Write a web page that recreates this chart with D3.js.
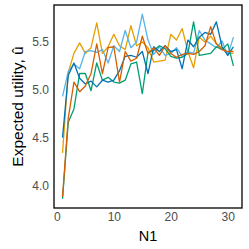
<!DOCTYPE html>
<html><head><meta charset="utf-8">
<script src="https://cdn.jsdelivr.net/npm/d3@7"></script>
<style>body{margin:0;background:#fff}svg{display:block}</style>
</head><body>
<script>
const N1 = d3.range(1, 32);
const orange = [4.34,5.18,5.38,5.49,5.38,5.44,5.70,5.38,5.45,5.58,5.46,5.42,5.67,5.46,5.50,5.44,5.29,5.30,5.31,5.58,5.52,5.64,5.40,5.23,5.55,5.50,5.56,5.48,5.44,5.38,5.38];
const skyblue = [4.93,5.19,5.27,5.22,5.40,5.41,5.39,5.42,5.28,5.46,5.40,5.62,5.44,5.50,5.79,5.52,5.37,5.45,5.36,5.38,5.44,5.35,5.40,5.38,5.62,5.52,5.48,5.44,5.51,5.36,5.55];
const green = [3.86,4.66,4.80,5.17,5.17,4.99,5.28,5.10,5.13,5.08,5.07,5.10,5.27,5.29,4.96,5.39,5.41,5.46,5.43,5.35,5.33,5.34,5.38,5.71,5.36,5.37,5.38,5.45,5.42,5.48,5.25];
const blue = [4.50,5.15,5.28,5.12,5.06,5.09,5.03,5.10,5.08,5.10,5.20,5.35,5.36,5.34,5.40,5.17,5.45,5.40,5.46,5.40,5.42,5.22,5.52,5.45,5.55,5.60,5.58,5.71,5.45,5.36,5.45];
const vermilion = [3.88,4.70,5.08,4.98,5.04,5.17,5.48,5.17,5.44,5.45,5.08,5.40,5.30,5.33,5.56,5.38,5.44,5.36,5.46,5.38,5.34,5.37,5.38,5.37,5.40,5.46,5.66,5.48,5.42,5.40,5.40];
const seriesList = [orange, skyblue, green, blue, vermilion];
const colors = ["#E69F00", "#56B4E9", "#009E73", "#0072B2", "#D55E00"];
const xTicks = [0, 10, 20, 30];
const yTicks = [4.0, 4.5, 5.0, 5.5];

const W = 249, H = 249;
const m = {left: 54, right: 7, top: 5, bottom: 41};
const svg = d3.select("body").append("svg").attr("width", W).attr("height", H);

const xr = d3.extent(N1), xp = (xr[1]-xr[0])*0.05;
const allY = seriesList.flat();
const yr = d3.extent(allY), yp = (yr[1]-yr[0])*0.05;
const x = d3.scaleLinear().domain([xr[0]-xp, xr[1]+xp]).range([m.left, W-m.right]);
const y = d3.scaleLinear().domain([yr[0]-yp, yr[1]+yp]).range([H-m.bottom, m.top]);

const line = d3.line().x((d,i)=>x(N1[i])).y(d=>y(d));
seriesList.forEach((s,k)=>{
  svg.append("path").datum(s).attr("d", line).attr("fill","none")
    .attr("stroke", colors[k]).attr("stroke-width", 1.3).attr("stroke-linejoin","round");
});

svg.append("rect").attr("x", m.left).attr("y", m.top)
  .attr("width", W-m.left-m.right).attr("height", H-m.top-m.bottom)
  .attr("fill","none").attr("stroke","#000").attr("stroke-width",1.3);

const xa = svg.append("g").attr("transform", `translate(0,${H-m.bottom})`)
  .call(d3.axisBottom(x).tickValues(xTicks).tickSize(0).tickPadding(4).tickFormat(d3.format("d")));
const ya = svg.append("g").attr("transform", `translate(${m.left},0)`)
  .call(d3.axisLeft(y).tickValues(yTicks).tickSize(0).tickPadding(5).tickFormat(d3.format(".1f")));
[xa, ya].forEach(a=>{
  a.select(".domain").remove();
  a.selectAll("text").attr("fill","#4D4D4D").attr("font-family","Liberation Sans, Arial, sans-serif").attr("font-size",12);
});

svg.append("text").attr("x", (m.left + W - m.right)/2).attr("y", 241)
  .attr("text-anchor","middle").attr("font-family","Liberation Sans, Arial, sans-serif")
  .attr("font-size",14.5).attr("fill","#000").text("N1");
svg.append("text").attr("transform", `translate(23,${(m.top + H - m.bottom)/2}) rotate(-90)`)
  .attr("text-anchor","middle").attr("font-family","Liberation Sans, Arial, sans-serif")
  .attr("font-size",15.5).attr("fill","#000").text("Expected utility, û");
</script>
</body></html>
